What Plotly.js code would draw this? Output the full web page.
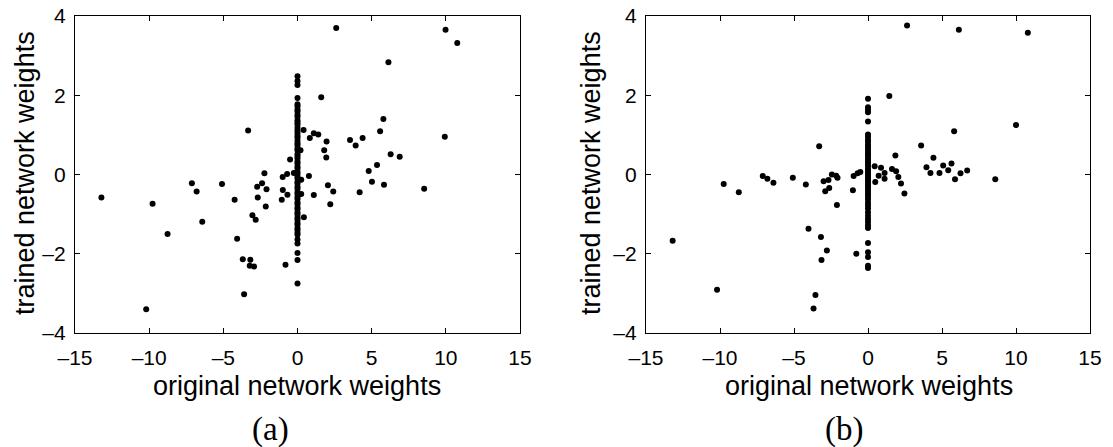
<!DOCTYPE html>
<html>
<head>
<meta charset="utf-8">
<script src="https://cdn.plot.ly/plotly-3.0.1.min.js"></script>
<style>html,body{margin:0;padding:0;background:#fff;}</style>
</head>
<body>
<div id="chart" style="width:1113px;height:447px;"></div>
<script>
// ---- Panel (a): scattered weights ----
const aX = [-13.22, -10.2, -9.77, -8.76, -7.12, -6.8, -6.42, -5.09, -4.24, -4.07, -3.69, -3.6, -3.33, -3.18, -3.22, -2.93, -3.04, -2.82, -2.68, -2.72, -2.39, -2.23, -2.09, -2.14, -1.06, -0.99, -1.0, -0.7, -0.68, -0.5, -0.25, -0.81, 0.2, 0.25, 0.25, 0.41, 0.43, 0.77, 0.83, 1.1, 1.1, 1.4, 1.6, 1.8, 1.94, 1.96, 2.05, 2.21, 2.41, 2.61, 3.54, 3.92, 4.19, 4.39, 4.8, 5.02, 5.36, 5.57, 5.79, 5.83, 6.13, 6.28, 6.89, 8.54, 9.93, 9.98, 10.77];
const aY = [-0.58, -3.40, -0.74, -1.50, -0.22, -0.43, -1.19, -0.24, -0.64, -1.62, -2.14, -3.02, 1.11, -2.15, -2.30, -2.32, -1.03, -1.14, -0.58, -0.31, -0.22, 0.03, -0.37, -0.81, -0.64, -0.39, -0.06, 0.01, -0.51, 0.38, 0.04, -2.28, 0.61, -0.13, -0.49, 1.12, -1.08, -0.04, 0.92, 1.04, -0.52, 1.01, 1.95, 0.61, 0.43, 0.83, -0.27, -0.75, -0.43, 3.70, 0.87, 0.73, -0.45, 0.92, 0.09, -0.18, 0.24, 1.09, 1.40, -0.26, 2.83, 0.51, 0.45, -0.36, 0.95, 3.65, 3.32];
// Panel (a): weights whose original value is zero (column at x = 0)
const aColY = [2.48, 2.36, 2.26, 1.93, 1.77, 1.72, 1.64, 1.59, 1.51, 1.46, 1.37, 1.31, 1.26, 1.18, 1.11, 1.05, 0.98, 0.93, 0.85, 0.79, 0.74, 0.66, 0.61, 0.52, 0.47, 0.41, 0.33, 0.28, 0.2, 0.15, 0.07, 0.02, -0.05, -0.1, -0.18, -0.23, -0.31, -0.36, -0.44, -0.49, -0.57, -0.62, -0.7, -0.75, -0.83, -0.88, -0.96, -1.01, -1.09, -1.14, -1.22, -1.27, -1.35, -1.4, -1.47, -1.52, -1.64, -1.74, -1.98, -2.16, -2.75];
const aColX = [0, 0, 0, 0, 0, 0, 0, 0, 0, 0, 0, 0, 0, 0, 0, 0, 0, 0, 0, 0, 0, 0, 0, 0, 0, 0, 0, 0, 0, 0, 0, 0, 0, 0, 0, 0, 0, 0, 0, 0, 0, 0, 0, 0, 0, 0, 0, 0, 0, 0, 0, 0, 0, 0, 0, 0, 0, 0, 0, 0, 0];

// ---- Panel (b) ----
const bX = [-13.2, -10.2, -9.75, -8.73, -7.11, -6.8, -6.39, -5.08, -4.2, -4.02, -3.68, -3.55, -3.3, -3.18, -3.14, -3.0, -2.89, -2.78, -2.67, -2.62, -2.44, -2.15, -2.06, -2.1, -1.02, -0.97, -0.79, -0.7, -0.52, 0.45, 0.49, 0.72, 0.88, 1.12, 1.12, 1.44, 1.62, 1.85, 1.9, 2.05, 2.23, 2.46, 2.64, 3.59, 3.95, 4.22, 4.42, 4.83, 5.08, 5.42, 5.64, 5.82, 5.88, 6.14, 6.25, 6.7, 8.6, 10.0, 10.8];
const bY = [-1.67, -2.91, -0.24, -0.45, -0.04, -0.11, -0.21, -0.08, -0.25, -1.37, -3.38, -3.04, 0.71, -1.58, -2.16, -0.17, -0.42, -1.92, -0.14, -0.34, 0.0, -0.03, -0.08, -0.77, -0.40, -0.04, -2.0, 0.03, 0.06, 0.21, -0.19, -0.03, 0.17, 0.04, -0.11, 1.98, 0.14, 0.48, 0.08, -0.06, -0.23, -0.48, 3.76, 0.73, 0.18, 0.04, 0.42, 0.04, 0.23, 0.11, 0.28, 1.09, -0.12, 3.65, 0.03, 0.1, -0.12, 1.25, 3.58];
const bColY = [1.91, 1.7, 1.63, 1.57, 1.34, 1.01, 0.95, 0.88, 0.83, 0.76, 0.7, 0.64, 0.57, 0.51, 0.46, 0.39, 0.33, 0.27, 0.22, 0.15, 0.1, 0.04, -0.02, -0.08, -0.13, -0.19, -0.26, -0.31, -0.37, -0.44, -0.5, -0.56, -0.63, -0.71, -0.78, -0.86, -0.95, -1.04, -1.12, -1.2, -1.28, -1.35, -1.73, -1.96, -2.08, -2.3, -2.36];
const bColX = [0, 0, 0, 0, 0, 0, 0, 0, 0, 0, 0, 0, 0, 0, 0, 0, 0, 0, 0, 0, 0, 0, 0, 0, 0, 0, 0, 0, 0, 0, 0, 0, 0, 0, 0, 0, 0, 0, 0, 0, 0, 0, 0, 0, 0, 0, 0];

const xTicks = [-15, -10, -5, 0, 5, 10, 15];
const xTickText = ['\u201315', '\u201310', '\u20135', '0', '5', '10', '15'];
const yTicks = [-4, -2, 0, 2, 4];
const yTickText = ['\u20134', '\u20132', '0', '2', '4'];
const xTitle = 'original network weights';
const yTitle = 'trained network weights';
const panelLabels = ['(a)', '(b)'];

const mk = {color: 'black', size: 6};
const traces = [
  {x: aX, y: aY, mode: 'markers', type: 'scatter', marker: mk, xaxis: 'x', yaxis: 'y', hoverinfo: 'none'},
  {x: aColX, y: aColY, mode: 'markers', type: 'scatter', marker: mk, xaxis: 'x', yaxis: 'y', hoverinfo: 'none'},
  {x: bX, y: bY, mode: 'markers', type: 'scatter', marker: mk, xaxis: 'x2', yaxis: 'y2', hoverinfo: 'none'},
  {x: bColX, y: bColY, mode: 'markers', type: 'scatter', marker: mk, xaxis: 'x2', yaxis: 'y2', hoverinfo: 'none'}
];

const W = 1113, H = 447;
const yDom = [(H - 333) / H, (H - 16) / H];
const axCommon = {
  showgrid: false, zeroline: false, showline: true, linecolor: 'black', linewidth: 1.2,
  mirror: 'ticks', ticks: 'inside', ticklen: 5, tickwidth: 1, tickcolor: 'black',
  tickfont: {family: 'Liberation Sans, Arial, sans-serif', size: 21, color: 'black'},
  fixedrange: true
};
const xa = Object.assign({}, axCommon, {range: [-15, 15], tickmode: 'array', tickvals: xTicks, ticktext: xTickText, ticklabelstandoff: 6});
const ya = Object.assign({}, axCommon, {range: [-4, 4], tickmode: 'array', tickvals: yTicks, ticktext: yTickText, ticklabelstandoff: 4});

const titleFont = {family: 'Liberation Sans, Arial, sans-serif', size: 27, color: 'black'};
const labFont = {family: 'Liberation Serif, Times New Roman, serif', size: 33, color: 'black'};

const layout = {
  width: W, height: H, margin: {l: 0, r: 0, t: 0, b: 0},
  paper_bgcolor: 'white', plot_bgcolor: 'white', showlegend: false,
  xaxis: Object.assign({}, xa, {domain: [75 / W, 520 / W], anchor: 'y'}),
  yaxis: Object.assign({}, ya, {domain: yDom, anchor: 'x'}),
  xaxis2: Object.assign({}, xa, {domain: [646 / W, 1090 / W], anchor: 'y2'}),
  yaxis2: Object.assign({}, ya, {domain: yDom, anchor: 'x2'}),
  annotations: [
    {text: xTitle, xref: 'paper', yref: 'paper', x: 297 / W, y: (H - 386) / H, xanchor: 'center', yanchor: 'middle', showarrow: false, font: titleFont},
    {text: xTitle, xref: 'paper', yref: 'paper', x: 869 / W, y: (H - 386) / H, xanchor: 'center', yanchor: 'middle', showarrow: false, font: titleFont},
    {text: yTitle, xref: 'paper', yref: 'paper', x: 25 / W, y: (H - 173) / H, xanchor: 'center', yanchor: 'middle', textangle: -90, showarrow: false, font: titleFont},
    {text: yTitle, xref: 'paper', yref: 'paper', x: 591 / W, y: (H - 173) / H, xanchor: 'center', yanchor: 'middle', textangle: -90, showarrow: false, font: titleFont},
    {text: panelLabels[0], xref: 'paper', yref: 'paper', x: 270 / W, y: (H - 429) / H, xanchor: 'center', yanchor: 'middle', showarrow: false, font: labFont},
    {text: panelLabels[1], xref: 'paper', yref: 'paper', x: 844 / W, y: (H - 429) / H, xanchor: 'center', yanchor: 'middle', showarrow: false, font: labFont}
  ]
};

Plotly.newPlot('chart', traces, layout, {staticPlot: true, displayModeBar: false});
</script>
</body>
</html>
